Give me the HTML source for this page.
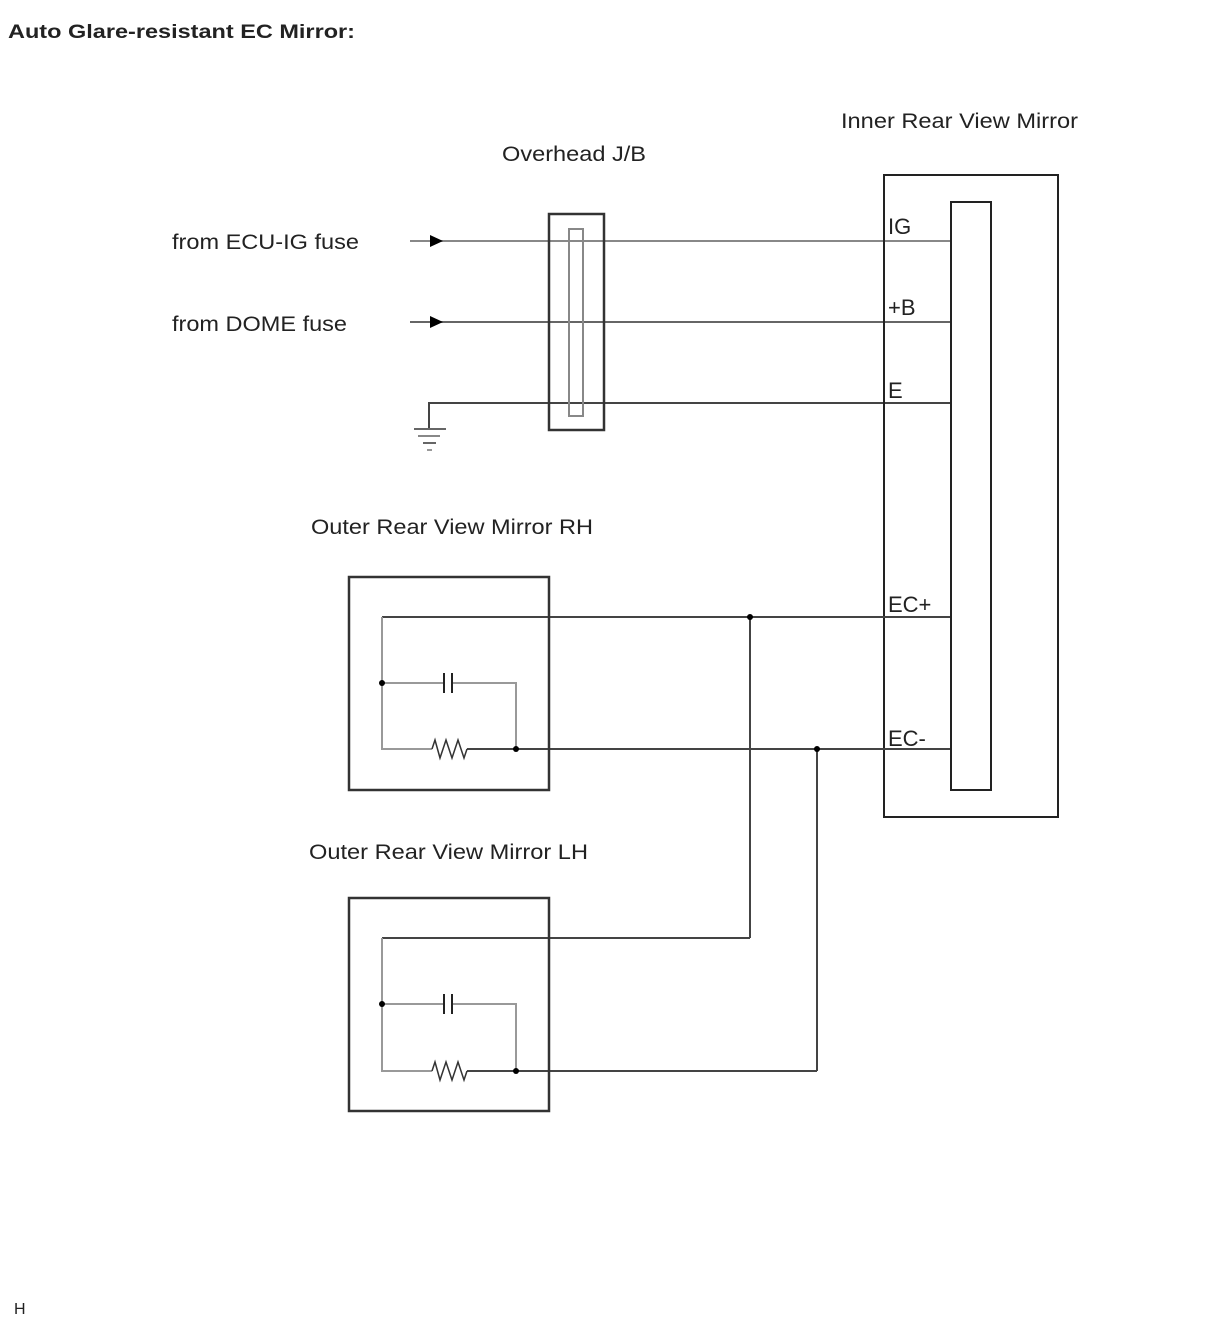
<!DOCTYPE html>
<html><head><meta charset="utf-8"><style>
html,body{margin:0;padding:0;background:#fff;}
svg{display:block;}
text{font-family:"Liberation Sans",Arial,sans-serif;fill:#222;}
</style></head><body>
<svg width="1210" height="1328" viewBox="0 0 1210 1328" xmlns="http://www.w3.org/2000/svg">
<text x="8" y="38" font-size="19" font-weight="bold" textLength="347" lengthAdjust="spacingAndGlyphs">Auto Glare-resistant EC Mirror:</text>
<text x="841" y="128" font-size="21" textLength="237" lengthAdjust="spacingAndGlyphs">Inner Rear View Mirror</text>
<text x="502" y="161" font-size="21" textLength="144" lengthAdjust="spacingAndGlyphs">Overhead J/B</text>
<text x="172" y="249" font-size="21" textLength="187" lengthAdjust="spacingAndGlyphs">from ECU-IG fuse</text>
<text x="172" y="331" font-size="21" textLength="175" lengthAdjust="spacingAndGlyphs">from DOME fuse</text>
<text x="311" y="534" font-size="21" textLength="282" lengthAdjust="spacingAndGlyphs">Outer Rear View Mirror RH</text>
<text x="309" y="859" font-size="21" textLength="279" lengthAdjust="spacingAndGlyphs">Outer Rear View Mirror LH</text>
<text x="888" y="234" font-size="22">IG</text>
<text x="888" y="315" font-size="22">+B</text>
<text x="888" y="398" font-size="22">E</text>
<text x="888" y="612" font-size="22">EC+</text>
<text x="888" y="746" font-size="22">EC-</text>
<text x="14" y="1314" font-size="16">H</text>

<g fill="none" stroke-width="2">
<line x1="410" y1="241" x2="950" y2="241" stroke="#888"/>
<line x1="410" y1="322" x2="950" y2="322" stroke="#666"/>
<polyline points="429,430 429,403 950,403" stroke="#444"/>
<line x1="414" y1="429" x2="446" y2="429" stroke="#666"/>
<line x1="418" y1="436" x2="440" y2="436" stroke="#888"/>
<line x1="423" y1="443" x2="436" y2="443" stroke="#666"/>
<line x1="427" y1="450" x2="432" y2="450" stroke="#999"/>
<rect x="549" y="214" width="55" height="216" stroke="#333" stroke-width="2.5"/>
<rect x="569" y="229" width="14" height="187" stroke="#888"/>
<rect x="884" y="175" width="174" height="642" stroke="#222"/>
<rect x="951" y="202" width="40" height="588" stroke="#222"/>
<line x1="382" y1="617" x2="950" y2="617" stroke="#444"/>
<line x1="516" y1="749" x2="950" y2="749" stroke="#444"/>
<line x1="750" y1="617" x2="750" y2="938" stroke="#444"/>
<line x1="817" y1="749" x2="817" y2="1071" stroke="#444"/>
<line x1="382" y1="938" x2="750" y2="938" stroke="#444"/>
<line x1="516" y1="1071" x2="817" y2="1071" stroke="#444"/>
<rect x="349" y="577" width="200" height="213" stroke="#333" stroke-width="2.5"/>
<polyline points="382,617 382,749 432,749" stroke="#999"/>
<polyline points="382,683 443,683" stroke="#999"/>
<polyline points="453,683 516,683 516,749" stroke="#999"/>
<line x1="467" y1="749" x2="516" y2="749" stroke="#444"/>
<line x1="444" y1="673" x2="444" y2="693" stroke="#222"/>
<line x1="452" y1="673" x2="452" y2="693" stroke="#222"/>
<polyline points="432,749 435,740 440,758 446,740 452,758 458,740 464,758 467,749" stroke="#333" stroke-width="1.5"/>
<rect x="349" y="898" width="200" height="213" stroke="#333" stroke-width="2.5"/>
<polyline points="382,938 382,1071 432,1071" stroke="#999"/>
<polyline points="382,1004 443,1004" stroke="#999"/>
<polyline points="453,1004 516,1004 516,1071" stroke="#999"/>
<line x1="467" y1="1071" x2="516" y2="1071" stroke="#444"/>
<line x1="444" y1="994" x2="444" y2="1014" stroke="#222"/>
<line x1="452" y1="994" x2="452" y2="1014" stroke="#222"/>
<polyline points="432,1071 435,1062 440,1080 446,1062 452,1080 458,1062 464,1080 467,1071" stroke="#333" stroke-width="1.5"/>
</g>
<polygon points="430,235 443,241 430,247" fill="#000"/>
<polygon points="430,316 443,322 430,328" fill="#000"/>
<g fill="#000">
<circle cx="382" cy="683" r="3"/><circle cx="516" cy="749" r="3"/>
<circle cx="382" cy="1004" r="3"/><circle cx="516" cy="1071" r="3"/>
<circle cx="750" cy="617" r="3"/><circle cx="817" cy="749" r="3"/>
</g>
</svg>
</body></html>
